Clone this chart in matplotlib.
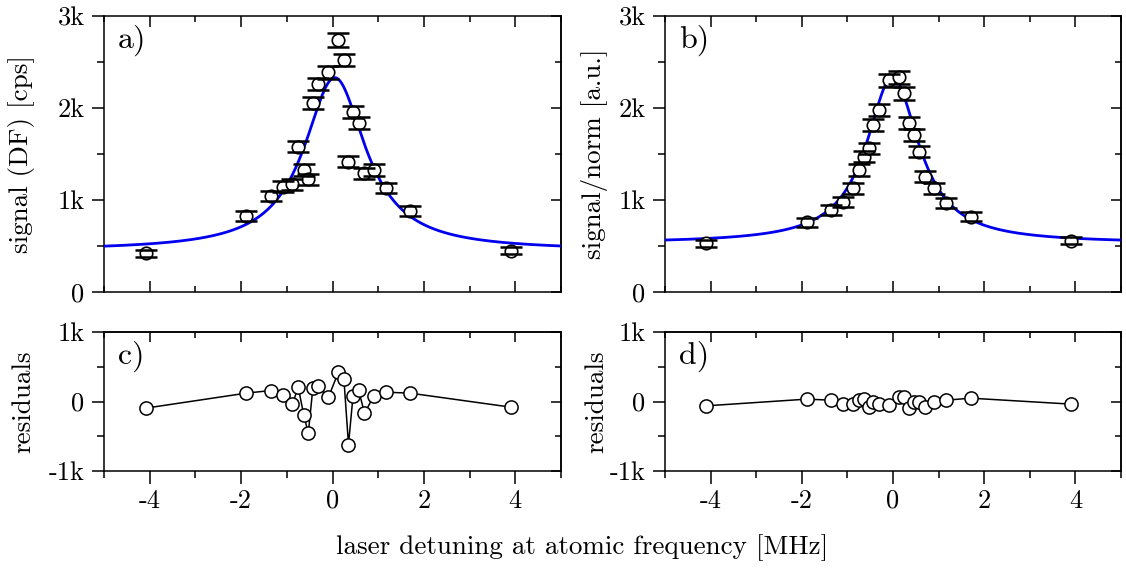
import matplotlib
matplotlib.use("Agg")
import matplotlib.pyplot as plt
import numpy as np
from matplotlib.ticker import FuncFormatter, MultipleLocator

plt.rcParams.update(
    {
        "font.family": "serif",
        "font.serif": ["cmr10"],
        "mathtext.fontset": "cm",
        "axes.formatter.use_mathtext": True,
        "axes.unicode_minus": False,
        "font.size": 19,
        "axes.linewidth": 1.1,
    }
)

# laser detuning of every measured point [MHz]
detuning = [-4.09, -1.89, -1.35, -1.09, -0.88, -0.75, -0.63, -0.53, -0.43, -0.31, -0.09,
            0.13, 0.25, 0.35, 0.45, 0.57, 0.70, 0.91, 1.17, 1.70, 3.91]

# a) raw signal on the DF channel [cps]
signal_df = [420, 826, 1043, 1145, 1171, 1579, 1326, 1225, 2051, 2261, 2388,
             2739, 2522, 1416, 1953, 1834, 1290, 1326, 1134, 880, 449]
signal_df_err = [40, 52, 56, 58, 58, 62, 60, 58, 66, 68, 70,
                 72, 70, 60, 66, 65, 58, 60, 56, 52, 40]

# b) normalised signal [a.u.]
signal_norm = [529, 757, 891, 982, 1127, 1326, 1471, 1562, 1815, 1978, 2300,
               2334, 2160, 1834, 1707, 1525, 1253, 1127, 964, 819, 558]
signal_norm_err = [40, 50, 54, 56, 58, 60, 62, 62, 66, 68, 70,
                   70, 68, 66, 64, 62, 60, 58, 56, 52, 40]

# c), d) residuals of the fits
resid_df = [-96, 120, 158, 96, -43, 206, -192, -456, 191, 216, 62,
            422, 317, -619, 86, 168, -168, 86, 134, 120, -82]
resid_norm = [-62, 34, 19, -29, -29, 19, 34, -72, -5, -38, -48,
              67, 58, -100, 0, -14, -86, -14, 19, 48, -38]

# Lorentzian fit: offset, amplitude, centre, half width
fit_df = (450, 1880, 0.05, 0.82)
fit_norm = (530, 1810, -0.01, 0.70)

W, H = 1126, 570


def box(left, top, right, bottom):
    return [left / W, 1 - bottom / H, (right - left) / W, (bottom - top) / H]


def kfmt(v, pos):
    if abs(v) < 1e-9:
        return "0"
    return f"{v / 1000:g}k"


def xfmt(v, pos):
    return f"{v:g}"


def style_axes(ax, ymajor, yminor, xlabels):
    ax.set_xlim(-5, 5)
    ax.xaxis.set_major_locator(MultipleLocator(2))
    ax.xaxis.set_minor_locator(MultipleLocator(1))
    ax.yaxis.set_major_locator(MultipleLocator(ymajor))
    ax.yaxis.set_minor_locator(MultipleLocator(yminor))
    ax.yaxis.set_major_formatter(FuncFormatter(kfmt))
    ax.xaxis.set_major_formatter(FuncFormatter(xfmt))
    ax.tick_params(axis="y", which="both", direction="out", right=False, width=1.1, pad=5)
    ax.tick_params(axis="y", which="major", length=9)
    ax.tick_params(axis="y", which="minor", length=5)
    sec_y = ax.secondary_yaxis("right")
    sec_y.yaxis.set_major_locator(MultipleLocator(ymajor))
    sec_y.yaxis.set_minor_locator(MultipleLocator(yminor))
    sec_y.tick_params(which="both", direction="in", labelright=False, width=1.1)
    sec_y.tick_params(which="major", length=7)
    sec_y.tick_params(which="minor", length=4)
    if xlabels:
        ax.tick_params(axis="x", which="both", direction="out", top=False, width=1.1, pad=4)
        ax.tick_params(axis="x", which="major", length=9)
        ax.tick_params(axis="x", which="minor", length=5)
        sec_x = ax.secondary_xaxis("top")
        sec_x.xaxis.set_major_locator(MultipleLocator(2))
        sec_x.xaxis.set_minor_locator(MultipleLocator(1))
        sec_x.tick_params(which="both", direction="in", labeltop=False, width=1.1)
        sec_x.tick_params(which="major", length=7)
        sec_x.tick_params(which="minor", length=4)
    else:
        ax.tick_params(axis="x", which="both", direction="in", top=True, bottom=True,
                       labelbottom=False, width=1.1)
        ax.tick_params(axis="x", which="major", length=8)
        ax.tick_params(axis="x", which="minor", length=4)


def draw_signal(ax, y, yerr, fit, label):
    c, amp, x0, g = fit
    xs = np.linspace(-5, 5, 600)
    ax.plot(xs, c + amp / (1 + ((xs - x0) / g) ** 2), color="#0000ee", lw=2.0, zorder=3)
    _, caps, bars = ax.errorbar(detuning, y, yerr=yerr, fmt="none", ecolor="black",
                                elinewidth=1.2, capsize=8, capthick=1.8, zorder=4)
    for cap in caps:
        cap.set_zorder(6)
    ax.plot(detuning, y, "o", ms=9, mfc="white", mec="black", mew=1.2, zorder=5)
    ax.set_ylim(0, 3000)
    style_axes(ax, 1000, 500, xlabels=False)
    ax.text(0.03, 0.97, label, transform=ax.transAxes, ha="left", va="top", fontsize=23)


def draw_resid(ax, r, label):
    ax.plot(detuning, r, "-", color="black", lw=1.1, zorder=3)
    ax.plot(detuning, r, "o", ms=9.5, mfc="white", mec="black", mew=1.1, zorder=4)
    ax.set_ylim(-1000, 1000)
    style_axes(ax, 1000, 500, xlabels=True)
    ax.text(0.03, 0.94, label, transform=ax.transAxes, ha="left", va="top", fontsize=23)


fig = plt.figure(figsize=(W / 100, H / 100), dpi=100)
ax_a = fig.add_axes(box(104, 16, 561, 292))
ax_b = fig.add_axes(box(665, 16, 1121, 292))
ax_c = fig.add_axes(box(104, 332, 561, 471))
ax_d = fig.add_axes(box(665, 332, 1121, 471))

draw_signal(ax_a, signal_df, signal_df_err, fit_df, "a)")
draw_signal(ax_b, signal_norm, signal_norm_err, fit_norm, "b)")
draw_resid(ax_c, resid_df, "c)")
draw_resid(ax_d, resid_norm, "d)")

ax_a.set_ylabel("signal (DF) [cps]", fontsize=19.5)
ax_b.set_ylabel("signal/norm [a.u.]", fontsize=19.5)
ax_c.set_ylabel("residuals", fontsize=19.5)
ax_d.set_ylabel("residuals", fontsize=19.5)
for ax in (ax_a, ax_c):
    ax.yaxis.set_label_coords(-0.15, 0.5)
for ax in (ax_b, ax_d):
    ax.yaxis.set_label_coords(-0.125, 0.5)

fig.text(582 / W, 1 - 548 / H, "laser detuning at atomic frequency [MHz]",
         ha="center", va="center", fontsize=19.5)

fig.savefig("out.png", dpi=100, facecolor="white")
